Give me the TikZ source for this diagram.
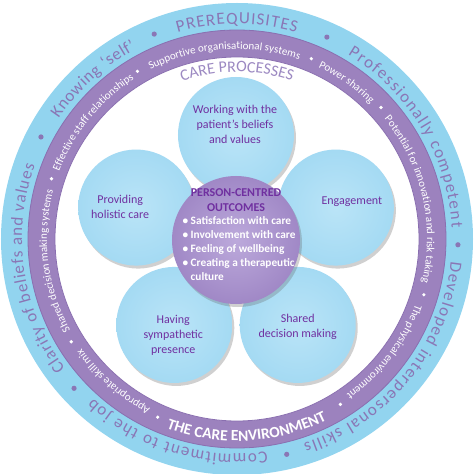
\documentclass[tikz,border=0pt]{standalone}
\usepackage{fontspec}
\setmainfont{Carlito}
\usetikzlibrary{calc, shadows, decorations.text}
\definecolor{ringblue}{HTML}{92D4EF}
\definecolor{ringlight}{HTML}{CBECF9}
\definecolor{bandpurple}{HTML}{9C82BE}
\definecolor{bandedge}{HTML}{8A6FB0}
\definecolor{ringtext}{HTML}{8A76B5}
\definecolor{processtext}{HTML}{9C89C2}
\definecolor{petalblue}{HTML}{A4DAF3}
\definecolor{petallight}{HTML}{BAE4F7}
\definecolor{petaltext}{HTML}{7030A0}
\definecolor{hubpurple}{HTML}{A088C6}
\definecolor{hublight}{HTML}{BCA9DB}
\pgfdeclareradialshading{ringshade}{\pgfpoint{0bp}{0bp}}{color(0bp)=(ringblue); color(43bp)=(ringblue); color(50bp)=(ringlight)}
\tikzset{
  petal/.style={circle, minimum size=116pt, inner sep=0pt, inner color=petallight, outer color=petalblue,
    drop shadow={shadow xshift=2pt, shadow yshift=-3pt, opacity=.3, fill=black!60}},
  petaltxt/.style={align=center, text=petaltext, font=\fontsize{12}{15}\selectfont},
  hub/.style={circle, minimum size=128pt, inner sep=0pt, inner color=hublight, outer color=hubpurple,
    drop shadow={shadow xshift=2pt, shadow yshift=-3pt, opacity=.3, fill=black!60}},
  hubtitle/.style={align=center, text=petaltext, font=\bfseries\fontsize{12}{15}\selectfont},
  hublist/.style={align=left, text=white, font=\bfseries\fontsize{11.3}{14}\selectfont}
}
\newcommand{\outerphrase}[3]{\path[decorate, decoration={text along path, text={|\fontsize{17}{17}\selectfont|#3},
  text color=ringtext, text align={fit to path}}] (#1:215) arc[start angle=#1, end angle=#2, radius=215];}
\newcommand{\bandphrase}[3]{\path[decorate, decoration={text along path, text={|\fontsize{11}{11}\selectfont|#3},
  text color=white, text align=center}] (#1:190) arc[start angle=#1, end angle=#2, radius=190];}

\begin{document}
\begin{tikzpicture}[x=1pt, y=1pt]
\useasboundingbox (-237,-235) rectangle (237,239);
\shade[shading=ringshade] (0,0) circle (236);
\filldraw[fill=bandpurple, draw=bandedge, line width=.8] (0,0) circle (209);
\filldraw[fill=white, draw=bandedge, line width=.8] (0,0) circle (182);

\outerphrase{217}{160}{Clarity of beliefs and values}
\outerphrase{146}{118}{Knowing ‘self’}
\outerphrase{106}{74}{PREREQUISITES}
\outerphrase{59}{3}{Professionally competent}
\outerphrase{-6}{-72}{Developed interpersonal skills}
\outerphrase{-82}{-132}{Commitment to the job}
\foreach \a in {152.5, 112, 66, 358.5, 283, 222.5}
  \fill[ringtext] (\a:221) circle (2.6);

\bandphrase{244}{214}{Appropriate skill mix}
\bandphrase{210}{164}{Shared decision making systems}
\bandphrase{160}{122}{Effective staff relationships}
\bandphrase{119}{69}{Supportive organisational systems}
\bandphrase{66}{44}{Power sharing}
\bandphrase{41}{-15}{Potential for innovation and risk taking}
\bandphrase{-18}{-57}{The physical environment}
\path[decorate, decoration={text along path, text={|\bfseries\fontsize{15.5}{15.5}\selectfont|THE CARE ENVIRONMENT},
  text color=white, text align=center}] (247:202) arc[start angle=247, end angle=299, radius=202];
\foreach \a in {246, 211.8, 162, 120.7, 67.6, 42.4, 343.4, 302}
  \fill[white] (\a:195) circle (1.8);

\path[decorate, decoration={text along path, text={|\fontsize{16}{16}\selectfont|CARE PROCESSES},
  text color=processtext, text align=center}] (112:167) arc[start angle=112, end angle=68, radius=167];

\coordinate (flower) at (-1,-1);
\foreach \ang/\name in {234/sympathetic, 306/shared, 162/holistic, 18/engagement, 90/beliefs}
  \node[petal] (\name) at ($(flower)+(\ang:105)$) {};
\foreach \name/\dx/\dy/\txt in {beliefs/-1/11/{Working with the\\patient’s beliefs\\and values},
    holistic/-16/1/{Providing\\holistic care}, sympathetic/-1/-10/{Having\\sympathetic\\presence},
    shared/0/-2/{Shared\\decision making}, engagement/16/6/{Engagement}}
  \node[petaltxt] (\name-txt) at ($(\name)+(\dx,\dy)$) {\txt};

\node[hub] (hub) at (flower) {};
\node[hubtitle] (hubtitle) at ($(hub)+(0,40)$) {PERSON-CENTRED\\OUTCOMES};
\node[hublist, anchor=west] (hublist) at ($(hub)+(-57,-9)$)
  {• Satisfaction with care\\• Involvement with care\\• Feeling of wellbeing\\• Creating a therapeutic\\\phantom{• }culture};
\end{tikzpicture}
\end{document}
